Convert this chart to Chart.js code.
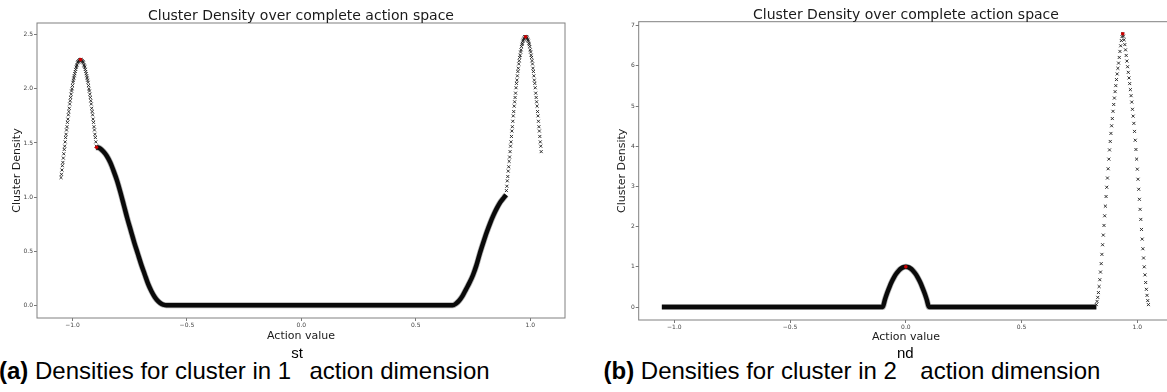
<!DOCTYPE html>
<html>
<head>
<meta charset="utf-8">
<title>Cluster densities</title>
<script src="https://cdn.jsdelivr.net/npm/chart.js@4.4.1/dist/chart.umd.min.js"></script>
<style>
  html, body { margin: 0; padding: 0; background: #fff; overflow: hidden; }
  #page { position: relative; width: 1167px; height: 392px; overflow: hidden; }
  canvas { position: absolute; top: 0; }
  #chartA { left: 0; }
  #chartB { left: 580px; }
  .cap { position: absolute; top: 358.7px; font-family: "Liberation Sans", Arial, sans-serif;
         font-size: 24px; line-height: 24px; color: #000; white-space: nowrap; }
  .cap b { font-weight: bold; }
  .cap .sup { font-size: 15px; position: relative; top: -21px; }
  #capA { left: -1px; }
  #capB { left: 603.5px; }
</style>
</head>
<body>
<div id="page">
  <canvas id="chartA" width="580" height="345"></canvas>
  <canvas id="chartB" width="600" height="345"></canvas>
  <div class="cap" id="capA"><b>(a)</b> Densities for cluster in 1<span class="sup">st</span> action dimension</div>
  <div class="cap" id="capB"><b>(b)</b> Densities for cluster in 2<span class="sup">nd</span> action dimension</div>
</div>
<script>
// ---- text ----
const panelTitleText = 'Cluster Density over complete action space';
const xAxisLabel = 'Action value';
const yAxisLabel = 'Cluster Density';

// ---- ticks ----
const xTicks = [-1.0, -0.5, 0.0, 0.5, 1.0];
const xTickLabels = ['\u22121.0', '\u22120.5', '0.0', '0.5', '1.0'];
const yTicksA = [0, 0.5, 1.0, 1.5, 2.0, 2.5];
const yTickLabelsA = ['0.0', '0.5', '1.0', '1.5', '2.0', '2.5'];
const yTicksB = [0, 1, 2, 3, 4, 5, 6, 7];
const yTickLabelsB = ['0', '1', '2', '3', '4', '5', '6', '7'];

// ---- panel (a): first action dimension ----
// sampled densities around the left-most cluster
const sparseA1 = [
  [-1.050,1.18],[-1.048,1.21],[-1.046,1.25],[-1.044,1.29],[-1.042,1.32],[-1.040,1.36],
  [-1.038,1.40],[-1.036,1.44],[-1.034,1.47],[-1.032,1.51],[-1.030,1.55],[-1.028,1.58],
  [-1.026,1.62],[-1.024,1.65],[-1.022,1.69],[-1.020,1.72],[-1.018,1.76],[-1.016,1.79],
  [-1.014,1.82],[-1.012,1.86],[-1.010,1.89],[-1.008,1.92],[-1.006,1.95],[-1.004,1.98],
  [-1.002,2.00],[-1.000,2.03],[-0.998,2.06],[-0.996,2.08],[-0.994,2.10],[-0.992,2.12],
  [-0.990,2.14],[-0.988,2.16],[-0.986,2.18],[-0.984,2.20],[-0.982,2.21],[-0.980,2.22],
  [-0.978,2.24],[-0.976,2.25],[-0.974,2.25],[-0.972,2.26],[-0.970,2.26],[-0.968,2.27],
  [-0.966,2.27],[-0.964,2.27],[-0.962,2.27],[-0.960,2.26],[-0.958,2.26],[-0.956,2.25],
  [-0.954,2.25],[-0.952,2.24],[-0.950,2.22],[-0.948,2.21],[-0.946,2.20],[-0.944,2.18],
  [-0.942,2.16],[-0.940,2.14],[-0.938,2.12],[-0.936,2.10],[-0.934,2.08],[-0.932,2.06],
  [-0.930,2.03],[-0.928,2.00],[-0.926,1.98],[-0.924,1.95],[-0.922,1.92],[-0.920,1.89],
  [-0.918,1.86],[-0.916,1.82],[-0.914,1.79],[-0.912,1.76],[-0.910,1.72],[-0.908,1.69],
  [-0.906,1.65],[-0.904,1.62],[-0.902,1.58],[-0.900,1.55],[-0.898,1.51],[-0.896,1.47]
];
// sampled densities around the right-most cluster
const sparseA2 = [
  [0.896,1.06],[0.898,1.10],[0.900,1.15],[0.902,1.19],[0.904,1.24],[0.906,1.28],
  [0.908,1.33],[0.910,1.37],[0.912,1.42],[0.914,1.47],[0.916,1.51],[0.918,1.56],
  [0.920,1.61],[0.922,1.65],[0.924,1.70],[0.926,1.75],[0.928,1.79],[0.930,1.84],
  [0.932,1.88],[0.934,1.92],[0.936,1.96],[0.938,2.01],[0.940,2.05],[0.942,2.08],
  [0.944,2.12],[0.946,2.16],[0.948,2.19],[0.950,2.23],[0.952,2.26],[0.954,2.29],
  [0.956,2.31],[0.958,2.34],[0.960,2.36],[0.962,2.39],[0.964,2.41],[0.966,2.42],
  [0.968,2.44],[0.970,2.45],[0.972,2.46],[0.974,2.47],[0.976,2.48],[0.978,2.48],
  [0.980,2.48],[0.982,2.48],[0.984,2.48],[0.986,2.47],[0.988,2.46],[0.990,2.45],
  [0.992,2.44],[0.994,2.42],[0.996,2.41],[0.998,2.39],[1.000,2.36],[1.002,2.34],
  [1.004,2.31],[1.006,2.29],[1.008,2.26],[1.010,2.23],[1.012,2.19],[1.014,2.16],
  [1.016,2.12],[1.018,2.08],[1.020,2.05],[1.022,2.01],[1.024,1.96],[1.026,1.92],
  [1.028,1.88],[1.030,1.84],[1.032,1.79],[1.034,1.75],[1.036,1.70],[1.038,1.65],
  [1.040,1.61],[1.042,1.56],[1.044,1.51],[1.046,1.47],[1.048,1.42]
];
// densely sampled stretch (markers merge into a solid band)
const denseA = [
  [-0.895,1.46],[-0.880,1.45],[-0.865,1.42],[-0.850,1.38],[-0.835,1.32],[-0.820,1.24],
  [-0.805,1.15],[-0.790,1.04],[-0.775,0.92],[-0.760,0.80],[-0.745,0.69],[-0.730,0.58],
  [-0.715,0.48],[-0.700,0.38],[-0.685,0.29],[-0.670,0.20],[-0.655,0.13],[-0.640,0.075],
  [-0.625,0.036],[-0.610,0.012],[-0.595,0.002],[-0.580,0.0],
  [0.660,0.0],[0.675,0.015],[0.690,0.045],[0.705,0.09],[0.720,0.15],[0.735,0.21],
  [0.750,0.28],[0.765,0.37],[0.780,0.48],[0.795,0.58],[0.810,0.675],[0.825,0.76],
  [0.840,0.835],[0.855,0.90],[0.870,0.955],[0.885,0.995],[0.895,1.02]
];
const centersA = [[-0.965,2.27],[-0.895,1.46],[0.980,2.48]];

// ---- panel (b): second action dimension ----
const sparseB = [
  [0.823,0.06],[0.826,0.14],[0.829,0.24],[0.832,0.36],[0.835,0.51],[0.838,0.68],
  [0.841,0.87],[0.844,1.08],[0.847,1.31],[0.850,1.55],[0.853,1.79],[0.856,2.03],
  [0.859,2.27],[0.862,2.51],[0.865,2.75],[0.868,2.98],[0.871,3.21],[0.874,3.44],
  [0.877,3.68],[0.880,3.91],[0.883,4.12],[0.886,4.32],[0.889,4.51],[0.892,4.69],
  [0.895,4.87],[0.898,5.04],[0.901,5.20],[0.904,5.36],[0.907,5.51],[0.910,5.66],
  [0.913,5.80],[0.916,5.94],[0.919,6.07],[0.922,6.21],[0.925,6.36],[0.928,6.50],
  [0.931,6.63],[0.934,6.73],[0.937,6.80],
  [0.940,6.74],[0.943,6.65],[0.946,6.53],[0.949,6.40],[0.952,6.26],[0.955,6.12],
  [0.958,5.98],[0.961,5.84],[0.964,5.70],[0.967,5.56],[0.970,5.41],[0.973,5.26],
  [0.976,5.10],[0.979,4.92],[0.982,4.75],[0.985,4.57],[0.988,4.37],[0.991,4.15],
  [0.994,3.92],[0.997,3.68],[1.000,3.43],[1.003,3.18],[1.006,2.93],[1.009,2.68],
  [1.012,2.43],[1.015,2.18],[1.018,1.93],[1.021,1.69],[1.024,1.45],[1.027,1.22],
  [1.030,1.00],[1.033,0.80],[1.036,0.61],[1.039,0.44],[1.042,0.29],[1.045,0.16],
  [1.048,0.06]
];
const denseB = [
  [-1.054,0.0],[-0.100,0.0],
  [-0.090,0.19],[-0.080,0.36],[-0.070,0.51],[-0.060,0.64],[-0.050,0.75],[-0.040,0.84],
  [-0.030,0.91],[-0.020,0.96],[-0.010,0.99],[0.000,1.00],[0.010,0.99],[0.020,0.96],
  [0.030,0.91],[0.040,0.84],[0.050,0.75],[0.060,0.64],[0.070,0.51],[0.080,0.36],
  [0.090,0.19],[0.100,0.0],[0.823,0.0]
];
const centersB = [[0.000,1.00],[0.937,6.80]];

// ---- plugins: centred panel title and axes frame ----
const panelTitlePlugin = {
  id: 'panelTitle',
  defaults: { text: '', y: 20 },
  afterDraw(chart, args, opts) {
    const { ctx, chartArea: a } = chart;
    ctx.save();
    ctx.font = '14px "DejaVu Sans"';
    ctx.fillStyle = '#1a1a1a';
    ctx.textAlign = 'center';
    ctx.textBaseline = 'alphabetic';
    ctx.fillText(opts.text, (a.left + a.right) / 2, opts.y);
    ctx.restore();
  }
};
const framePlugin = {
  id: 'frame',
  defaults: { color: '#808080' },
  afterDatasetsDraw(chart, args, opts) {
    const { ctx, chartArea: a } = chart;
    ctx.save();
    ctx.strokeStyle = opts.color;
    ctx.lineWidth = 1;
    ctx.strokeRect(a.left, a.top, a.right - a.left, a.bottom - a.top);
    ctx.restore();
  }
};
Chart.register(panelTitlePlugin, framePlugin);

const toXY = arr => arr.map(p => ({ x: p[0], y: p[1] }));
const tickFont = { family: 'DejaVu Sans', size: 6 };
const labelFont = { family: 'DejaVu Sans', size: 11 };

function makePanel(id, cfg) {
  return new Chart(document.getElementById(id), {
    type: 'scatter',
    data: {
      datasets: [
        { data: toXY(cfg.centers), pointStyle: 'circle', pointRadius: 1.8,
          backgroundColor: '#cc0000', borderWidth: 0 },
        { data: toXY(cfg.sparse), pointStyle: 'crossRot', pointRadius: 2.1,
          borderColor: '#1c1c1c', backgroundColor: 'rgba(0,0,0,0)', borderWidth: 0.9 },
        { data: toXY(cfg.dense), showLine: true, pointRadius: 0, borderColor: '#0a0a0a',
          borderWidth: 4.5, cubicInterpolationMode: 'monotone' },
        { data: toXY(cfg.dense), showLine: true, pointRadius: 0, borderColor: 'rgba(0,0,0,0.3)',
          borderWidth: 6, cubicInterpolationMode: 'monotone' }
      ]
    },
    options: {
      responsive: false,
      animation: false,
      devicePixelRatio: 1,
      events: [],
      layout: { padding: { left: 0, top: cfg.padTop, right: cfg.padRight, bottom: 0 } },
      plugins: {
        legend: { display: false },
        tooltip: { enabled: false },
        title: { display: false },
        panelTitle: { text: panelTitleText, y: cfg.titleY },
        frame: { color: '#808080' }
      },
      scales: {
        x: {
          type: 'linear', position: 'bottom', min: cfg.xMin, max: cfg.xMax,
          afterFit: s => { s.height = cfg.xAxisH; },
          afterBuildTicks: s => { s.ticks = xTicks.map(v => ({ value: v })); },
          ticks: { autoSkip: false, maxRotation: 0, padding: 1, color: '#444', font: tickFont,
                   callback: (v, i) => xTickLabels[i] },
          grid: { drawOnChartArea: false, drawTicks: true, tickLength: 3, tickColor: '#555', tickWidth: 0.8 },
          border: { display: false },
          title: { display: true, text: xAxisLabel, color: '#1a1a1a', font: labelFont,
                   padding: { top: 0, bottom: cfg.xTitlePad } }
        },
        y: {
          type: 'linear', position: 'left', min: cfg.yMin, max: cfg.yMax,
          afterFit: s => { s.width = cfg.yAxisW; },
          afterBuildTicks: s => { s.ticks = cfg.yTicks.map(v => ({ value: v })); },
          ticks: { autoSkip: false, padding: 1, color: '#444', font: tickFont,
                   callback: (v, i) => cfg.yTickLabels[i] },
          grid: { drawOnChartArea: false, drawTicks: true, tickLength: 3, tickColor: '#555', tickWidth: 0.8 },
          border: { display: false },
          title: { display: true, text: yAxisLabel, color: '#1a1a1a', font: labelFont,
                   padding: { top: cfg.yTitlePad, bottom: 0 } }
        }
      }
    }
  });
}

makePanel('chartA', {
  sparse: sparseA1.concat(sparseA2), dense: denseA, centers: centersA,
  yTicks: yTicksA, yTickLabels: yTickLabelsA,
  xMin: -1.155, xMax: 1.152, yMin: -0.117, yMax: 2.608,
  padTop: 23, padRight: 15, yAxisW: 37, xAxisH: 27,
  yTitlePad: 10.4, xTitlePad: 2.4, titleY: 20
});
makePanel('chartB', {
  sparse: sparseB, dense: denseB, centers: centersB,
  yTicks: yTicksB, yTickLabels: yTickLabelsB,
  xMin: -1.154, xMax: 1.155, yMin: -0.323, yMax: 7.10,
  padTop: 21.7, padRight: 6.8, yAxisW: 58.7, xAxisH: 25,
  yTitlePad: 35.4, xTitlePad: 0.9, titleY: 18.5
});
</script>
</body>
</html>
